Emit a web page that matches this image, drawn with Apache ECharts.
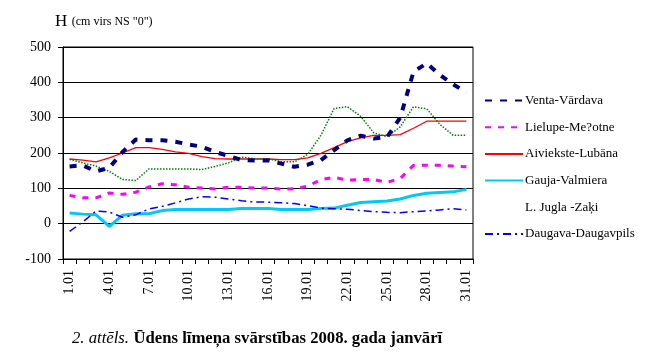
<!DOCTYPE html>
<html><head><meta charset="utf-8">
<script src="https://cdn.jsdelivr.net/npm/echarts@6/dist/echarts.min.js"></script>
<style>html,body{margin:0;padding:0;background:#fff}#c{width:658px;height:353px}</style>
</head><body><div id="c"></div>
<script>
const categories = ['1.01','2.01','3.01','4.01','5.01','6.01','7.01','8.01','9.01','10.01','11.01','12.01','13.01','14.01','15.01','16.01','17.01','18.01','19.01','20.01','21.01','22.01','23.01','24.01','25.01','26.01','27.01','28.01','29.01','30.01','31.01'];
const venta     = [162,165,148,158,203,238,236,236,232,224,218,203,192,180,179,179,170,161,167,180,208,236,249,241,245,300,430,454,421,394,372];
const lielupe   = [80,73,73,87,83,89,104,113,110,103,101,98,103,103,101,101,98,99,106,125,131,123,125,125,117,128,165,165,165,163,161];
const aiviekste = [183,180,175,186,200,215,215,210,203,199,190,184,183,183,183,183,181,181,186,199,215,232,243,250,250,252,270,290,290,290,290];
const gauja     = [30,27,25,-8,24,28,28,37,40,40,40,40,40,43,43,43,40,40,40,43,44,52,60,62,64,70,80,86,88,90,97];
const jugla     = [182,172,163,148,125,122,155,155,155,155,153,162,172,188,184,184,175,175,196,250,326,331,304,257,246,274,331,325,281,250,250];
const daugava   = [-22,5,36,33,18,25,42,49,59,70,76,75,70,65,61,61,59,57,51,44,42,41,37,34,32,31,34,36,39,42,39];
const seriesNames = ['Venta-Vārdava','Lielupe-Me?otne','Aiviekste-Lubāna','Gauja-Valmiera','L. Jugla -Zaķi','Daugava-Daugavpils'];

const FONT = 'Liberation Serif';
const chart = echarts.init(document.getElementById('c'), null, {renderer:'canvas'});
function line(name, data, color, width, type, z){
  return {name, type:'line', data, symbol:'none', showSymbol:false, z:z||2,
    lineStyle:{color, width, type}, itemStyle:{color}, emphasis:{disabled:true}};
}
chart.setOption({
  animation:false,
  backgroundColor:'#fff',
  textStyle:{fontFamily:FONT, color:'#000'},
  title:[{
    left:50, top:8,
    text:'{h|H} {s|(cm virs NS "0")}',
    textStyle:{fontWeight:'normal', rich:{h:{fontFamily:FONT,fontSize:17,fontWeight:'normal',color:'#000'},s:{fontFamily:FONT,fontSize:12,fontWeight:'normal',color:'#000'}}}
  },{
    left:67, top:325,
    text:'{i|2. attēls.} {b|Ūdens līmeņa svārstības 2008. gada janvārī}',
    textStyle:{fontWeight:'normal', rich:{i:{fontFamily:FONT,fontSize:16.7,fontStyle:'italic',fontWeight:'normal',color:'#000'},b:{fontFamily:FONT,fontSize:16.7,fontWeight:'bold',color:'#000'}}}
  }],
  grid:{left:63, top:47, right:185, bottom:94, show:true, borderColor:'#000', borderWidth:1, containLabel:false},
  legend:{
    orient:'vertical', left:479, top:89, itemWidth:38, itemHeight:14, itemGap:13.7,
    itemStyle:{opacity:0},
    textStyle:{fontFamily:FONT, fontSize:13, color:'#000', padding:[0,0,0,-3]},
    selectedMode:false,
    data:[
      {name:seriesNames[0]},{name:seriesNames[1]},{name:seriesNames[2]},{name:seriesNames[3]},
      {name:seriesNames[4], itemStyle:{opacity:0}, lineStyle:{opacity:0}},
      {name:seriesNames[5]}
    ]
  },
  xAxis:{
    type:'category', data:categories, boundaryGap:true,
    axisLine:{onZero:false, lineStyle:{color:'#000', width:1}},
    axisTick:{show:true, interval:0, length:5, lineStyle:{color:'#000'}},
    axisLabel:{interval:2, rotate:90, margin:11, fontFamily:FONT, fontSize:14, color:'#000'},
    splitLine:{show:false}
  },
  yAxis:{
    type:'value', min:-100, max:500, interval:100,
    axisLine:{show:true, lineStyle:{color:'#000', width:1}},
    axisTick:{show:true, length:5, lineStyle:{color:'#000'}},
    axisLabel:{margin:12, fontFamily:FONT, fontSize:14, color:'#000'},
    splitLine:{show:true, lineStyle:{color:'#000', width:1}}
  },
  series:[
    line(seriesNames[0], venta, '#000080', 4, [7,8], 6),
    line(seriesNames[1], lielupe, '#FF00FF', 3, [6,7], 5),
    line(seriesNames[2], aiviekste, '#FF0000', 1.3, 'solid', 4),
    line(seriesNames[3], gauja, '#00C8F8', 3, 'solid', 3),
    line(seriesNames[4], jugla, '#008000', 1.5, [1.5,1.5], 4),
    line(seriesNames[5], daugava, '#0000FF', 1.5, [8,4,2,4], 4)
  ]
});
</script></body></html>
